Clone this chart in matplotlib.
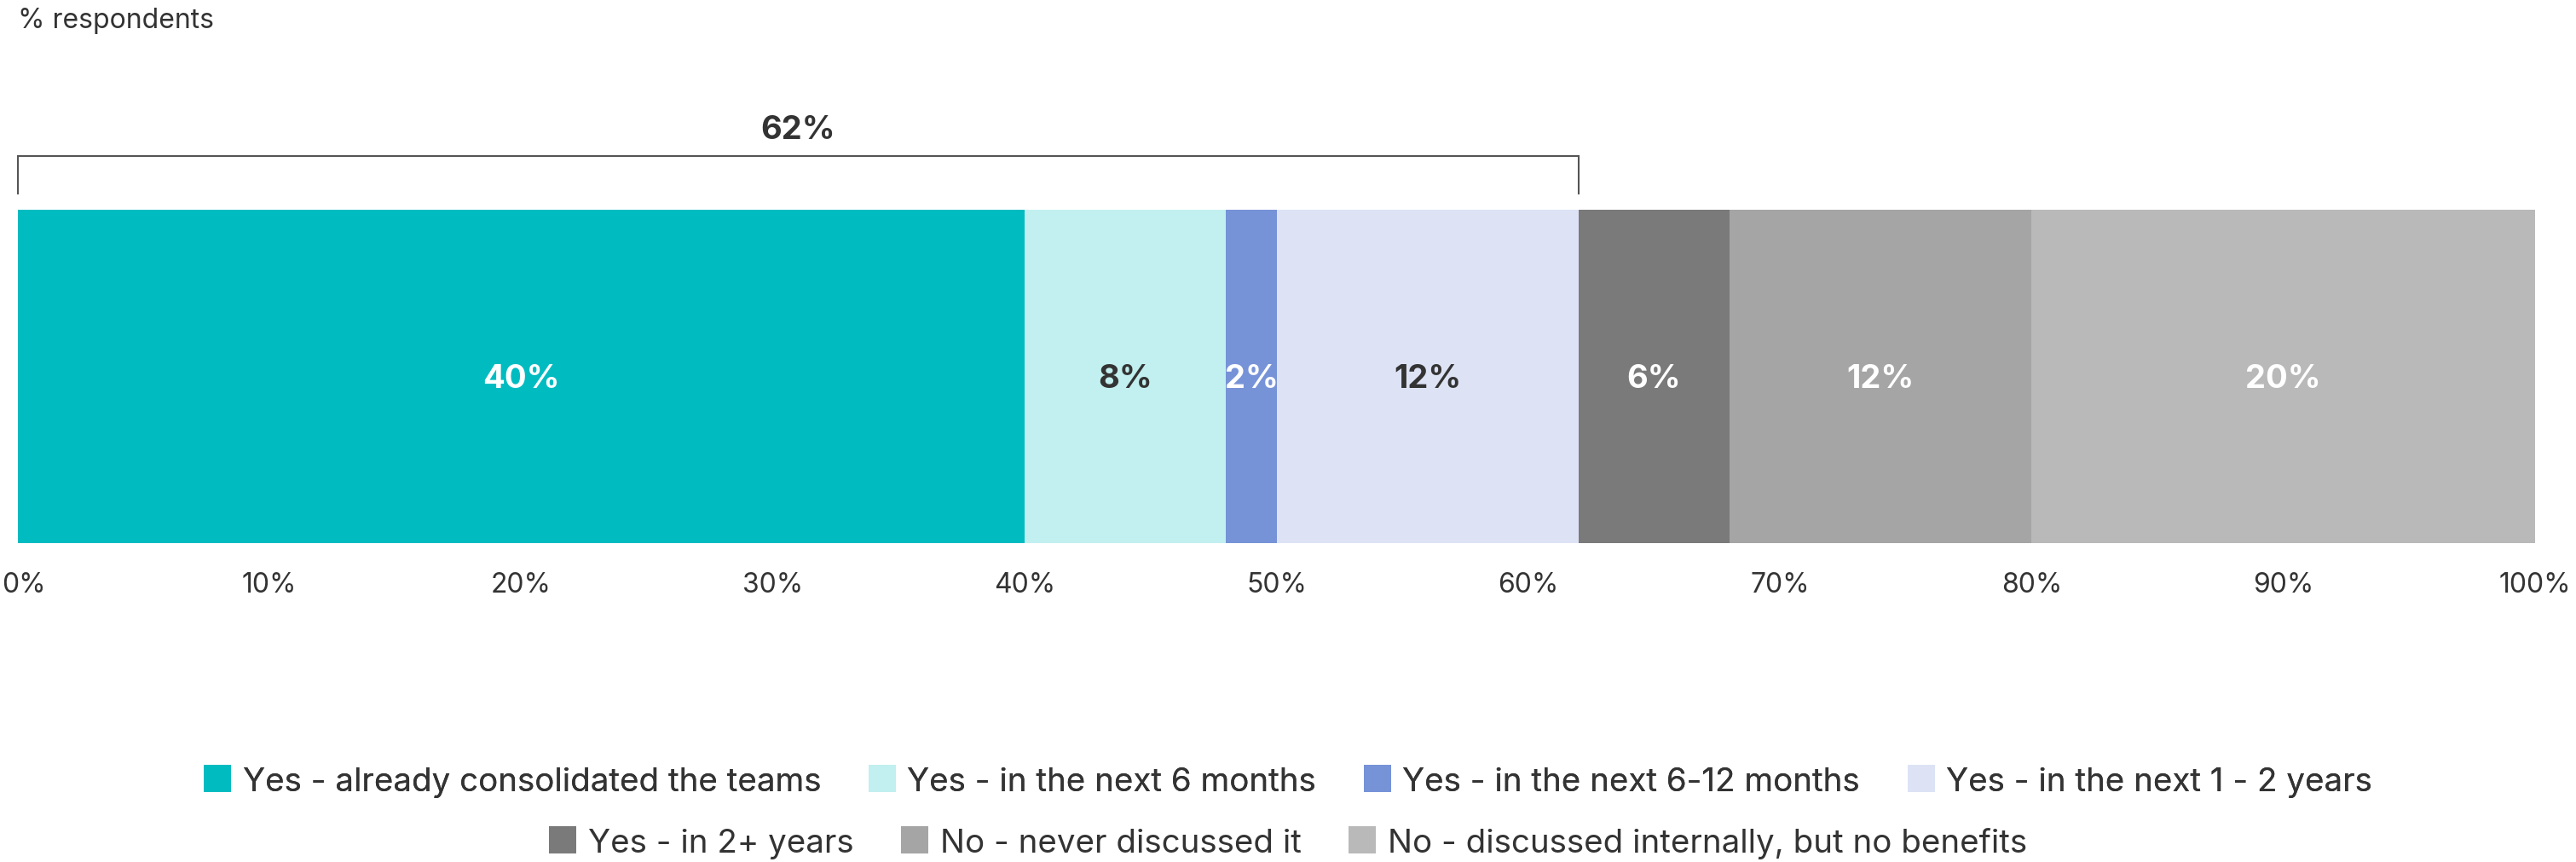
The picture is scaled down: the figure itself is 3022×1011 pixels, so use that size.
import matplotlib

matplotlib.use("Agg")
import matplotlib.pyplot as plt
import matplotlib.transforms as mtransforms
import numpy as np
from matplotlib.patches import Patch

plt.rcParams["font.family"] = ["Inter", "DejaVu Sans"]

categories = [
    "Yes - already consolidated the teams",
    "Yes - in the next 6 months",
    "Yes - in the next 6-12 months",
    "Yes - in the next 1 - 2 years",
    "Yes - in 2+ years",
    "No - never discussed it",
    "No - discussed internally, but no benefits",
]
shares = [40, 8, 2, 12, 6, 12, 20]
colors = ["#00BCC1", "#C2EFEF", "#7793D8", "#DDE3F5", "#7A7A7A", "#A5A5A5", "#B9B9B9"]
label_colors = ["white", "#333333", "white", "#333333", "white", "white", "white"]
x_ticks = [0, 10, 20, 30, 40, 50, 60, 70, 80, 90, 100]
# the first four answers are all some form of "yes, planned or done"
bracket_groups = 4

TEXT = "#333333"
W, H = 3022, 1012

fig = plt.figure(figsize=(W / 100, H / 100), dpi=100)
ax = fig.add_axes([21 / W, 1 - 638 / H, 2953 / W, 391 / H])

starts = np.concatenate([[0], np.cumsum(shares)[:-1]])
ax.barh(0, shares, left=starts, height=1.0, color=colors, linewidth=0)
for start, share, lc in zip(starts, shares, label_colors):
    ax.text(start + share / 2, -0.032, f"{share}%", ha="center", va="baseline",
            fontsize=27.5, fontweight="bold", color=lc)

ax.set_xlim(0, 100)
ax.set_ylim(-0.5, 0.5)
ax.set_xticks(x_ticks)
ax.set_xticklabels([f"{t}%" for t in x_ticks])
ax.set_yticks([])
ax.tick_params(axis="x", length=0, pad=24, labelsize=23, labelcolor=TEXT)
for spine in ax.spines.values():
    spine.set_visible(False)
# nudge the first label so it stays inside the canvas
first = ax.get_xticklabels()[0]
first.set_transform(first.get_transform()
                    + mtransforms.ScaledTranslation(7 / 100, 0, fig.dpi_scale_trans))

# bracket spanning the combined "yes" share
yes_total = sum(shares[:bracket_groups])
trans = ax.get_xaxis_transform()
ax.plot([0, 0, yes_total, yes_total], [1.0486, 1.161, 1.161, 1.0486],
        transform=trans, color="#555555", linewidth=1.5, clip_on=False,
        solid_joinstyle="miter")
ax.text(yes_total / 2, 1.2148, f"{yes_total}%", transform=trans, ha="center",
        va="baseline", fontsize=27.5, fontweight="bold", color=TEXT)

fig.text(21 / W, 1 - 33 / H, "% respondents", ha="left", va="baseline",
         fontsize=23, color=TEXT)

handles = [Patch(facecolor=c, edgecolor="none", label=l) for c, l in zip(colors, categories)]
legend_style = dict(loc="center", frameon=False, fontsize=27.7, borderpad=0,
                    handlelength=0.83, handleheight=0.9, handletextpad=0.35,
                    columnspacing=1.45, labelcolor=TEXT)
top_row = fig.legend(handles=handles[:4], ncol=4,
                     bbox_to_anchor=(0.5, 1 - 917 / H), **legend_style)
fig.add_artist(top_row)
fig.legend(handles=handles[4:], ncol=3, bbox_to_anchor=(0.5, 1 - 989 / H), **legend_style)

fig.savefig("out.png", dpi=100, facecolor="white")
